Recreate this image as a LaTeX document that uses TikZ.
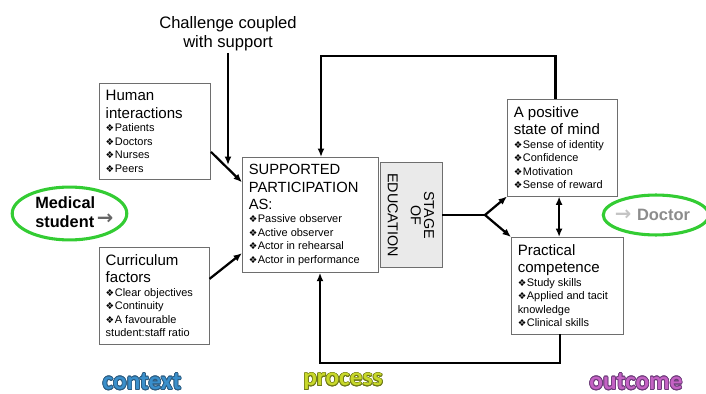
\documentclass[tikz,border=0pt]{standalone}
\usepackage{fontspec}
\setmainfont{Liberation Sans}
\newfontfamily\symf{DejaVu Sans}
\newfontfamily\lblf{Carlito}
\usepackage[copies]{contour}
\usepackage{tikz}
\usetikzlibrary{arrows.meta,shapes.geometric}

\definecolor{boxgray}{HTML}{6E6E6E}
\definecolor{stagegray}{HTML}{EAEAEA}
\definecolor{ringgreen}{HTML}{33CC33}
\definecolor{arrgray}{HTML}{666666}
\definecolor{docgray}{HTML}{8C8C8C}
\definecolor{docarr}{HTML}{C4C4C4}
\definecolor{ctxblue}{HTML}{3A8FCB}
\definecolor{ctxdark}{HTML}{2B5A7E}
\definecolor{prcgreen}{HTML}{C8D82A}
\definecolor{prcdark}{HTML}{6E7818}
\definecolor{outpurple}{HTML}{C462C4}
\definecolor{outdark}{HTML}{6B3A78}

\contourlength{0.5pt}
\newcommand{\bul}{{\symf\fontsize{6.8}{9}\selectfont ❖}\hspace{0.4pt}}
\newcommand{\itemsz}{\fontsize{7.8}{9.6}\selectfont}
% one smaller line under a box heading
\newcommand{\itm}[1]{\\[-2.9pt]{\itemsz #1}}

\begin{document}
\begin{tikzpicture}[x=0.025cm, y=-0.025cm,
        box/.style={draw=boxgray, line width=0.6pt, fill=white, anchor=north west, align=flush left,
            inner xsep=4.5pt, inner ysep=5pt, font=\fontsize{10.7}{12.5}\selectfont},
        arr/.style={-{Latex[length=6pt,width=5pt]}, line width=1.6pt},
        arrboth/.style={{Latex[length=6pt,width=5pt]}-{Latex[length=6pt,width=5pt]}, line width=1.6pt},
        ring/.style={draw=ringgreen, line width=2.2pt, ellipse, inner sep=0pt},
        lbl/.style={font=\lblf\bfseries\fontsize{18}{20}\selectfont, inner sep=0pt}]
        \useasboundingbox (0,0) rectangle (706,394);

        % context boxes
        \node[box, text width=70pt] (hum) at (99,83)
            {Human\\interactions\itm{\bul Patients}\itm{\bul Doctors}\itm{\bul Nurses}\itm{\bul Peers}};
        \node[box, text width=69pt] (cur) at (99,247)
            {Curriculum\\factors\itm{\bul Clear objectives}\itm{\bul Continuity}\itm{\bul A favourable}\itm{student:staff ratio}};

        % process
        \node[draw=boxgray, fill=stagegray, line width=0.6pt, rotate=-90, minimum width=75pt, minimum height=44pt,
            align=center, inner sep=1pt, font=\fontsize{10.2}{9.4}\selectfont] (stage) at (411,215)
            {STAGE\\OF\\[7pt]EDUCATION};
        \node[box, text width=88pt, font=\fontsize{10.5}{12.4}\selectfont] (sup) at (242,157)
            {SUPPORTED\\PARTICIPATION\\AS:\itm{\bul Passive observer}\itm{\bul Active observer}\itm{\bul Actor in rehearsal}\itm{\bul Actor in performance}};
        \node[align=center, inner sep=1pt, font=\fontsize{11.8}{13.5}\selectfont] (chal) at (228,34)
            {Challenge coupled\\with support};

        % outcome boxes
        \node[box, text width=69.5pt] (pos) at (507,99)
            {A positive\\state of mind\itm{\bul Sense of identity}\itm{\bul Confidence}\itm{\bul Motivation}\itm{\bul Sense of reward}};
        \node[box, text width=70.5pt] (prac) at (511,237)
            {Practical\\competence\itm{\bul Study skills}\itm{\bul Applied and tacit}\itm{knowledge}\itm{\bul Clinical skills}};

        % start and end
        \node[ring, minimum width=81.5pt, minimum height=37.6pt] (med) at (69.5,213.5) {};
        \node[anchor=west, align=flush left, inner sep=0pt, font=\bfseries\fontsize{11.6}{13.5}\selectfont] (medtxt) at (35,212.5)
            {Medical\\student\hspace{2pt}{\color{arrgray}\symf\fontsize{14}{14}\selectfont\raisebox{2.5pt}{→}}};
        \node[ring, minimum width=75pt, minimum height=28.4pt] (doc) at (656,215) {};
        \node[inner sep=0pt, font=\bfseries\fontsize{11.7}{13.5}\selectfont, text=docgray] (doctxt) at (652.5,215)
            {{\color{docarr}\symf\fontsize{14}{14}\selectfont →}\hspace{4pt}Doctor};

        \coordinate (chalend) at (228,165);
        \coordinate (fork) at (485,215);
        \coordinate (fbtop) at (321,56);
        \coordinate (fbbot) at (320,363);

        \draw[arr] (chal) -- (chalend);
        \draw[arr] ([yshift=-14.5pt]hum.east) -- ([yshift=-18pt]sup.north west);
        \draw[arr] ([yshift=12pt]cur.east) -- ([yshift=14pt]sup.south west);
        \draw[line width=1.6pt] (stage) -- (fork);
        \draw[arr] (fork) -- (pos.south west);
        \draw[arr] (fork) -- (prac.north west);
        \draw[arrboth] ([xshift=-2.5pt]pos.south) -- ([xshift=-2.5pt]pos.south |- prac.north);
        \draw[arr] ([xshift=-5pt]pos.north) |- (fbtop) -- (fbtop |- sup.north);
        \draw[arr] ([xshift=-5pt]prac.south) |- (fbbot) -- (fbbot |- sup.south);

        \node[lbl, text=ctxblue] (ctx) at (142,382) {\contour{ctxdark}{context}};
        \node[lbl, text=prcgreen] (prc) at (343,382) {\contour{prcdark}{process}};
        \node[lbl, text=outpurple] (out) at (636,382) {\contour{outdark}{outcome}};
    \end{tikzpicture}
\end{document}
